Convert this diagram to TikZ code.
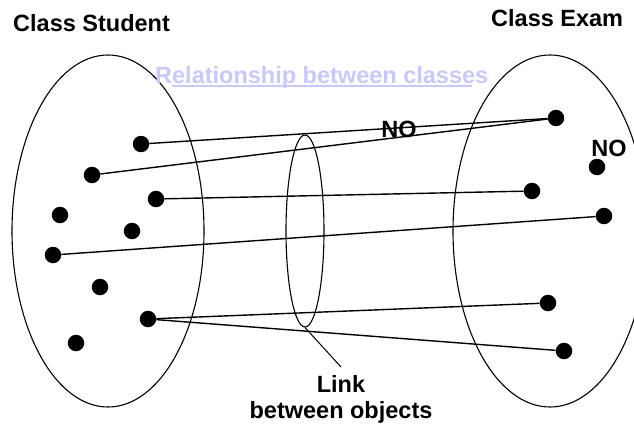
\documentclass[tikz,border=0pt]{standalone}
\usepackage{fontspec}
\setmainfont{Liberation Sans}
\usetikzlibrary{shapes.geometric, positioning}
\definecolor{relblue}{RGB}{200,200,255}

\begin{document}
\begin{tikzpicture}[
    x=1pt, y=-1pt,
    classset/.style={ellipse, draw, line width=1.1pt, inner sep=0pt},
    obj/.style={circle, fill=black, inner sep=0pt, minimum size=16.5pt},
    lbl/.style={font=\fontsize{23.5}{26}\selectfont\bfseries, inner sep=0pt, align=center},
    link/.style={line width=1.4pt}
]
    \useasboundingbox (0,0) rectangle (634,425);
    \clip (0,0) rectangle (634,425);

    % the two classes and the link set
    \node [classset, minimum width=192pt, minimum height=352pt] (student) at (108,231) {};
    \node [classset, minimum width=194pt, minimum height=352pt] (exam) at (550,231) {};
    \node [classset, minimum width=38pt, minimum height=192pt] (linkset) at (305,231) {};

    % objects of Student
    \node [obj] (s1) at (141,144) {};
    \node [obj] (s2) at (92,175) {};
    \node [obj] (s3) at (156,199) {};
    \node [obj] (s4) at (60,215) {};
    \node [obj] (s5) at (132,231) {};
    \node [obj] (s6) at (53,255) {};
    \node [obj] (s7) at (100,287) {};
    \node [obj] (s8) at (148,319) {};
    \node [obj] (s9) at (76,343) {};

    % objects of Exam
    \node [obj] (e1) at (556,118) {};
    \node [obj] (e2) at (597,167) {};
    \node [obj] (e3) at (532,191) {};
    \node [obj] (e4) at (604,216) {};
    \node [obj] (e5) at (548,303) {};
    \node [obj] (e6) at (564,351) {};

    \draw [link] (s1) -- (e1);
    \draw [link] (s2) -- (e1);
    \draw [link] (s3) -- (e3);
    \draw [link] (s6) -- (e4);
    \draw [link] (s8) -- (e5);
    \draw [link] (s8) -- (e6);

    % labels
    \node [lbl, anchor=base west] (studenttitle) at (13,32) {Class Student};
    \node [lbl, anchor=base west] (examtitle) at (491,27) {Class Exam};
    \node [lbl, anchor=base west, text=relblue] (relation) at (155,84) {Relationship between classes};
    \draw [relblue, line width=2pt] ([xshift=17pt, yshift=-2.5pt]relation.base west) -- ([xshift=-16pt, yshift=-2.5pt]relation.base east);
    \node [lbl, anchor=base] (no1) at (399,138) {NO};
    \node [lbl, anchor=base] (no2) at (609,156) {NO};
    \node [lbl, anchor=north] (linktxt) at (341,375) {Link\\between objects};

    \draw [line width=1pt] (linkset.south) -- ([yshift=8pt]linktxt.north);
\end{tikzpicture}
\end{document}
